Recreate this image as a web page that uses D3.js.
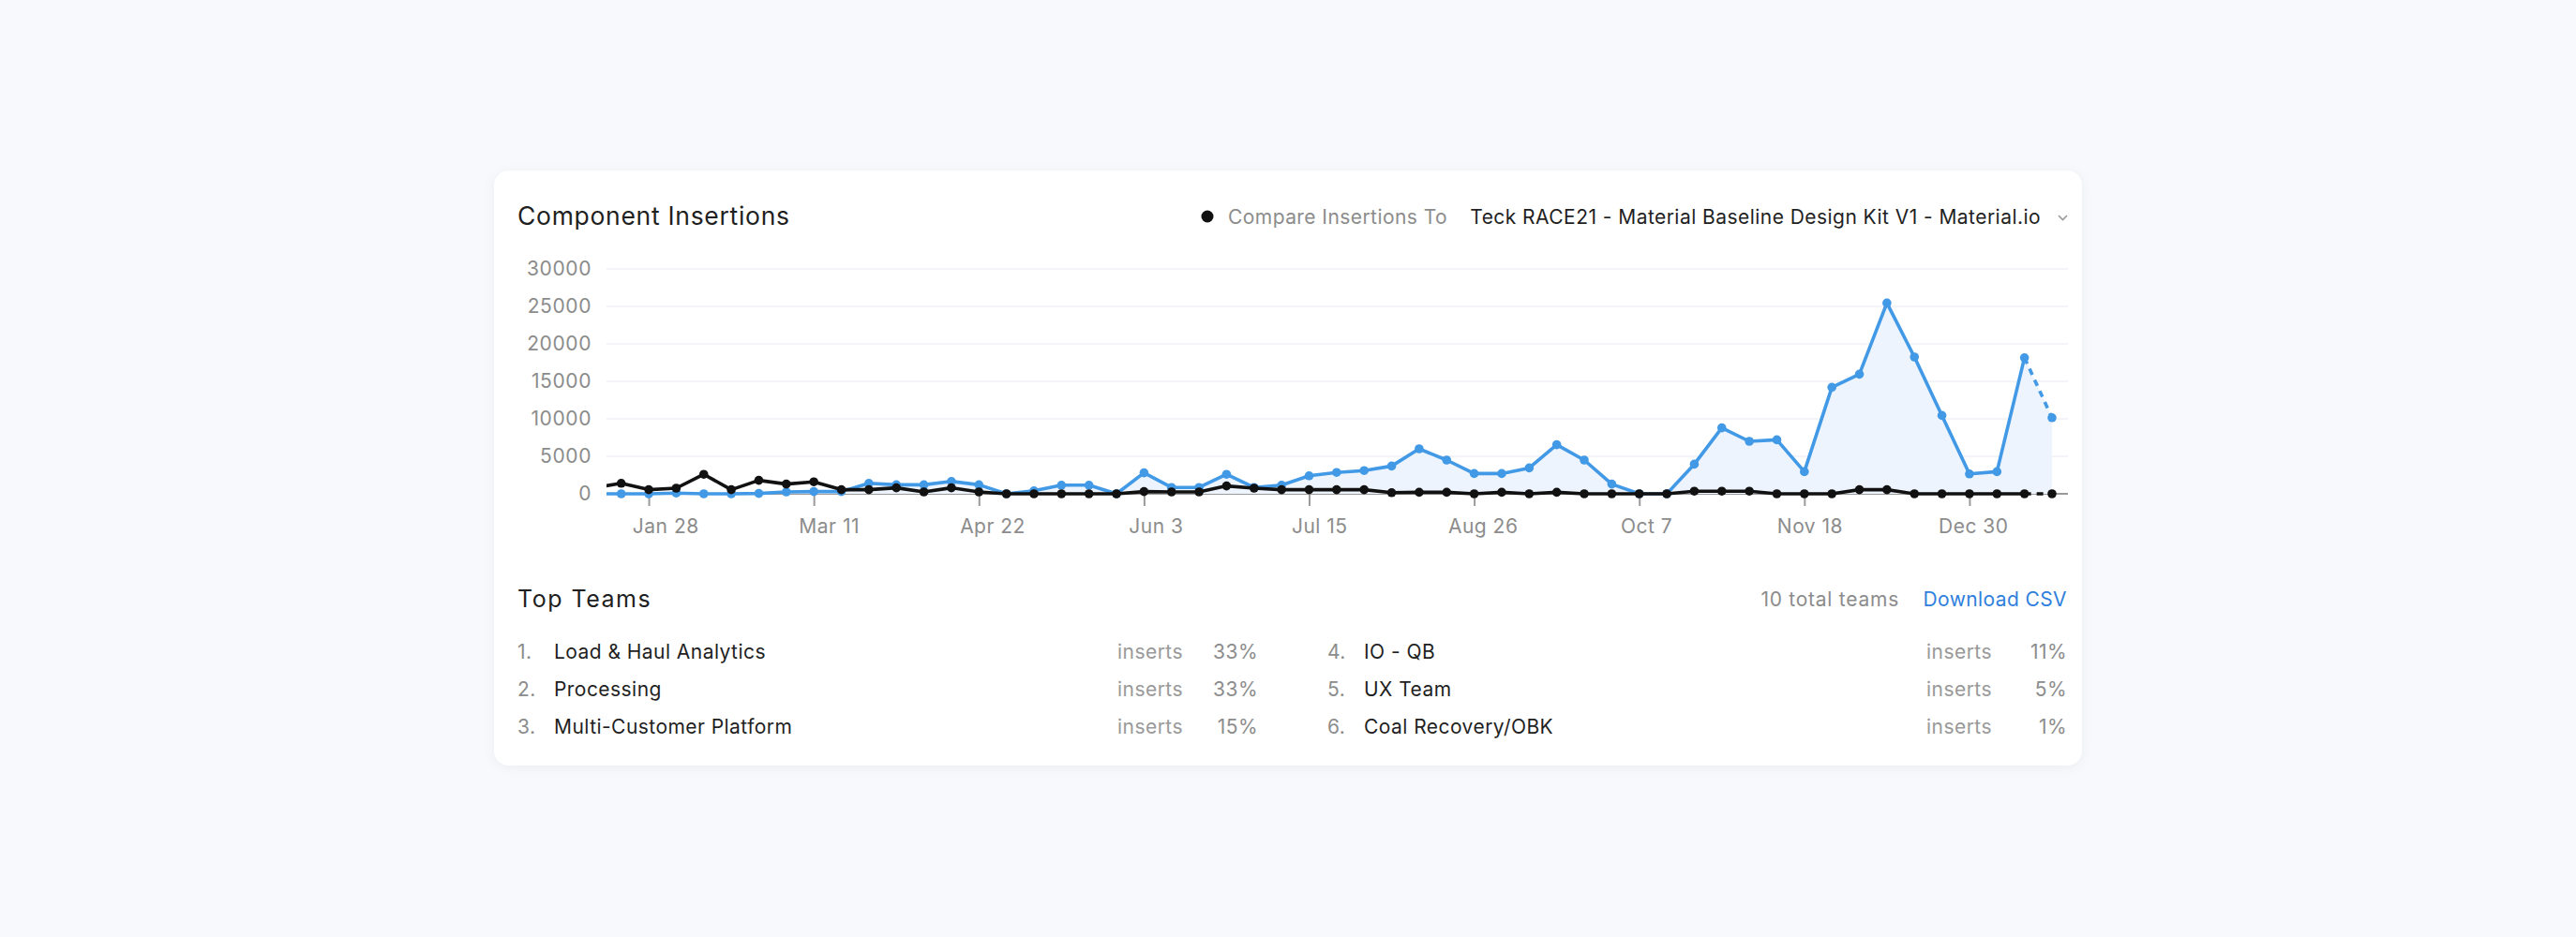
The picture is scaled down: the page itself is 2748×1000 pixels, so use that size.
<!DOCTYPE html>
<html><head><meta charset="utf-8">
<script src="https://cdn.jsdelivr.net/npm/d3@7"></script>
<style>
html,body{margin:0;padding:0;background:#f7f9fc;}
svg{display:block;font-family:Inter,"Noto Sans",sans-serif;}
</style></head><body>
<svg id="chart" width="2748" height="1000"></svg>
<script>
// ---- data ----
const weeks = ["2018-01-14","2018-01-21","2018-01-28","2018-02-04","2018-02-11","2018-02-18","2018-02-25",
"2018-03-04","2018-03-11","2018-03-18","2018-03-25","2018-04-01","2018-04-08","2018-04-15","2018-04-22","2018-04-29",
"2018-05-06","2018-05-13","2018-05-20","2018-05-27","2018-06-03","2018-06-10","2018-06-17","2018-06-24",
"2018-07-01","2018-07-08","2018-07-15","2018-07-22","2018-07-29","2018-08-05","2018-08-12","2018-08-19","2018-08-26",
"2018-09-02","2018-09-09","2018-09-16","2018-09-23","2018-09-30","2018-10-07","2018-10-14","2018-10-21","2018-10-28",
"2018-11-04","2018-11-11","2018-11-18","2018-11-25","2018-12-02","2018-12-09","2018-12-16","2018-12-23","2018-12-30",
"2019-01-06","2019-01-13","2019-01-20"];
const insertions = [0, 0,0,100,0,0,50,250,300,300,1400, 1200,1200,1650,1200,0,400,1150,1150,0,2800,
  850,850,2600,850,1150,2400,2850,3100,3700,6000, 4500,2700,2700,3450,6550,4500,1300,0,0,3950,
  8800,7000,7200,2950,14200,15950,25450,18250,10450,2650, 2950,18150,10150];
const compareInsertions = [800, 1400,550,750,2600,550,1800,1300,1600,550,550,
  800,250,800,250,0,0,0,0,0,300, 250,250,1050,750,550,550,550,550,150,200,
  200,0,200,0,200,0,0,0,0,350, 350,350,0,0,0,550,550,0,0,0, 0,0,0];
const xTickLabels = ["2018-01-28","2018-03-11","2018-04-22","2018-06-03","2018-07-15","2018-08-26","2018-10-07","2018-11-18","2018-12-30"];
const yTicks = [0,5000,10000,15000,20000,25000,30000];
const teamRanks = ["1.","2.","3.","4.","5.","6."];
const teamNames = ["Load & Haul Analytics","Processing","Multi-Customer Platform","IO - QB","UX Team","Coal Recovery/OBK"];
const teamShares = ["33%","33%","15%","11%","5%","1%"];
const chartTitle = "Component Insertions";
const compareLabel = "Compare Insertions To";
const compareTarget = "Teck RACE21 - Material Baseline Design Kit V1 - Material.io";

// ---- setup ----
const parse = d3.timeParse("%Y-%m-%d");
const dates = weeks.map(parse);
const blue = "#4299e6", ink = "#111111", grey = "#8c8c8c";
const FONT = "Inter,'Noto Sans',sans-serif";
const svg = d3.select("#chart");

const defs = svg.append("defs");
const f = defs.append("filter").attr("id","sh").attr("x","-5%").attr("y","-10%").attr("width","110%").attr("height","120%");
f.append("feDropShadow").attr("dx",0).attr("dy",2).attr("stdDeviation",6).attr("flood-color","#1a2b4c").attr("flood-opacity",0.05);

// card
svg.append("rect").attr("x",527).attr("y",182).attr("width",1694).attr("height",635)
  .attr("rx",16).attr("fill","#fff").attr("filter","url(#sh)");

// header
svg.append("text").attr("x",552).attr("y",240).attr("font-size",26.5).attr("letter-spacing",0.7).attr("fill","#1f1f1f").text(chartTitle);
svg.append("circle").attr("cx",1288).attr("cy",231).attr("r",6.5).attr("fill",ink);
svg.append("text").attr("x",1544).attr("y",239).attr("text-anchor","end").attr("font-size",21).attr("letter-spacing",0.43).attr("fill",grey).text(compareLabel);
svg.append("text").attr("x",2177).attr("y",239).attr("text-anchor","end").attr("font-size",21).attr("letter-spacing",0.45).attr("fill","#1f1f1f").text(compareTarget);
svg.append("path").attr("d","M2196,230 l4.5,4.5 l4.5,-4.5").attr("fill","none").attr("stroke","#999").attr("stroke-width",1.6);

// scales
const x = d3.scaleTime().domain([dates[1], dates[dates.length-1]]).range([662.7, 2189]);
const xLabel = d3.scaleTime().domain(x.domain()).range([x.range()[0]+18, x.range()[1]+3]);
const y = d3.scaleLinear().domain([0,30000]).range([527,287]);
const plotL = 647, plotR = 2206;

defs.append("clipPath").attr("id","clip").append("rect").attr("x",plotL).attr("y",0).attr("width",plotR-plotL).attr("height",1000);

// gridlines
svg.append("g").selectAll("line").data(yTicks.filter(d=>d>0)).join("line")
  .attr("x1",plotL).attr("x2",plotR).attr("y1",d=>y(d)).attr("y2",d=>y(d))
  .attr("stroke","#eff1f4").attr("stroke-width",1.5);

// y axis
const ya = svg.append("g").attr("transform",`translate(${plotL},0)`)
  .call(d3.axisLeft(y).tickValues(yTicks).tickSize(0).tickPadding(16).tickFormat(d3.format("d")));
ya.select(".domain").remove();
ya.selectAll("text").attr("font-size",21).attr("letter-spacing",0.6).attr("fill",grey).attr("font-family",FONT);

// x axis
const xa = svg.append("g").attr("transform",`translate(0,${y(0)})`)
  .call(d3.axisBottom(x).tickValues(xTickLabels.map(parse)).tickSize(13).tickFormat(d3.timeFormat("%b %-d")));
xa.select(".domain").remove();
xa.selectAll(".tick line").attr("stroke","#9a9a9a").attr("stroke-width",2);
xa.selectAll(".tick text").attr("font-size",21).attr("letter-spacing",0.5).attr("fill",grey).attr("font-family",FONT)
  .attr("y",42).attr("dy",0).attr("dx",d=>xLabel(d)-x(d));

// zero line
svg.append("line").attr("x1",plotL).attr("x2",plotR).attr("y1",y(0)).attr("y2",y(0))
  .attr("stroke","#9a9a9a").attr("stroke-width",2);

const plot = svg.append("g").attr("clip-path","url(#clip)");
const pts = s => dates.map((d,i)=>({d, v:s[i]}));
const bluePts = pts(insertions), blackPts = pts(compareInsertions);
const last = dates.length-1;

plot.append("path").datum(bluePts)
  .attr("d", d3.area().x(p=>x(p.d)).y0(y(0)).y1(p=>y(p.v)))
  .attr("fill","#edf4fd");

const line = d3.line().x(p=>x(p.d)).y(p=>y(p.v));
function drawSeries(data, color){
  plot.append("path").datum(data.slice(0,last)).attr("d",line)
    .attr("fill","none").attr("stroke",color).attr("stroke-width",3.6).attr("stroke-linejoin","round");
  plot.append("path").datum(data.slice(last-1)).attr("d",line)
    .attr("fill","none").attr("stroke",color).attr("stroke-width",3.6).attr("stroke-dasharray","7,6");
  plot.append("g").selectAll("circle").data(data).join("circle")
    .attr("cx",p=>x(p.d)).attr("cy",p=>y(p.v)).attr("r",4.8).attr("fill",color);
}
drawSeries(bluePts, blue);
drawSeries(blackPts, ink);

// Top teams
svg.append("text").attr("x",552).attr("y",648).attr("font-size",25).attr("letter-spacing",1.5).attr("fill","#1f1f1f").text("Top Teams");
svg.append("text").attr("x",2026).attr("y",647).attr("text-anchor","end").attr("font-size",21).attr("letter-spacing",0.75).attr("fill",grey).text("10 total teams");
svg.append("text").attr("x",2205).attr("y",647).attr("text-anchor","end").attr("font-size",21).attr("letter-spacing",0.4).attr("fill","#2f80dc").text("Download CSV");

const cols = [{n:552, name:591, ins:1262, pct:1342},{n:1416, name:1455, ins:2125, pct:2205}];
teamNames.forEach((nm,i)=>{
  const c = cols[Math.floor(i/3)], by = 703 + (i%3)*40;
  svg.append("text").attr("x",c.n).attr("y",by).attr("font-size",21).attr("letter-spacing",0.45).attr("fill",grey).text(teamRanks[i]);
  svg.append("text").attr("x",c.name).attr("y",by).attr("font-size",21).attr("letter-spacing",0.45).attr("fill","#1f1f1f").text(nm);
  svg.append("text").attr("x",c.ins).attr("y",by).attr("text-anchor","end").attr("font-size",21).attr("letter-spacing",0.45).attr("fill","#999").text("inserts");
  svg.append("text").attr("x",c.pct).attr("y",by).attr("text-anchor","end").attr("font-size",21).attr("letter-spacing",0.45).attr("fill",grey).text(teamShares[i]);
});
</script>
</body></html>
